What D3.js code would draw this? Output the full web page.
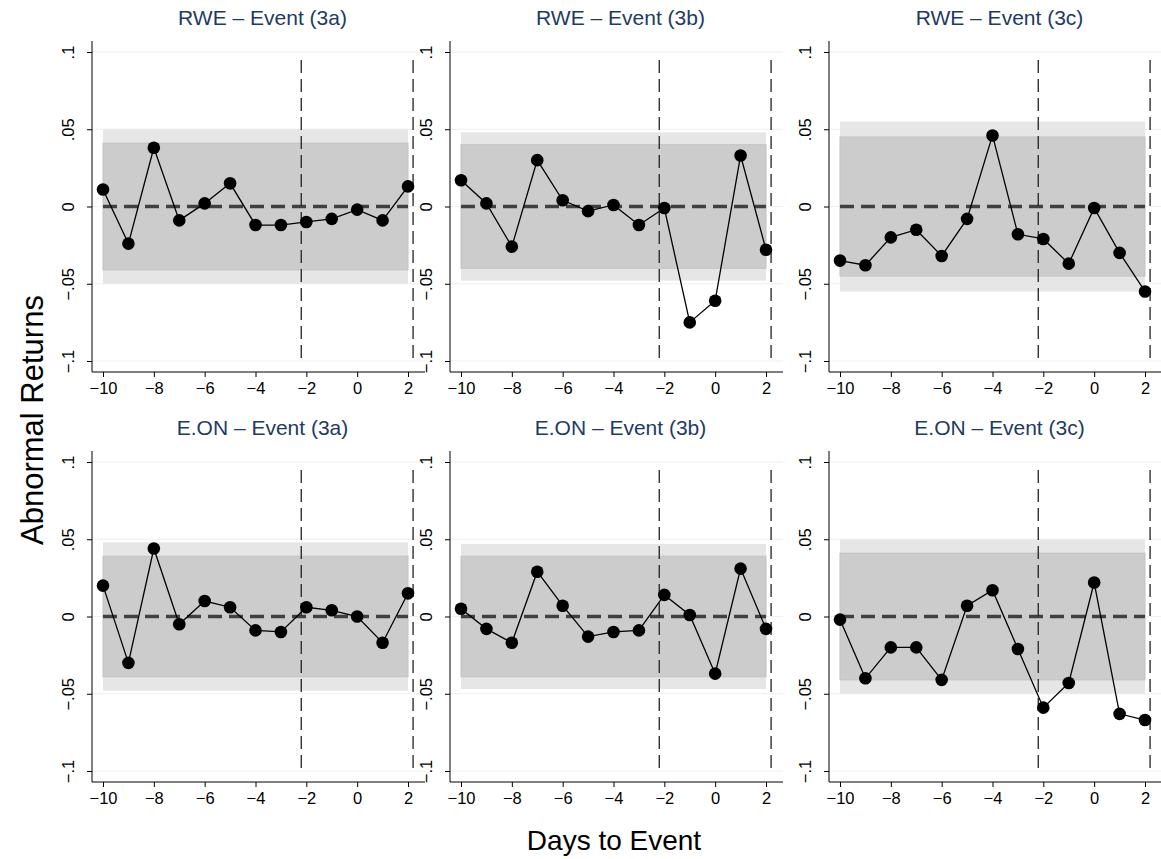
<!DOCTYPE html>
<html><head><meta charset="utf-8">
<script src="https://cdn.jsdelivr.net/npm/d3@7"></script>
<style>body{margin:0;background:#fff}svg{font-family:"Liberation Sans",Arial,sans-serif}</style>
</head><body><div id="chart"></div>
<script>
const days = [-10,-9,-8,-7,-6,-5,-4,-3,-2,-1,0,1,2];
const xTicks = [-10,-8,-6,-4,-2,0,2];
const yTicks = [-0.1,-0.05,0,0.05,0.1];
const yTickLabels = ["−.1","−.05","0",".05",".1"];
const titles = ["RWE – Event (3a)","RWE – Event (3b)","RWE – Event (3c)","E.ON – Event (3a)","E.ON – Event (3b)","E.ON – Event (3c)"];
const rwe3a = [.011,-.024,.038,-.009,.002,.015,-.012,-.012,-.010,-.008,-.002,-.009,.013];
const rwe3b = [.017,.002,-.026,.030,.004,-.003,.001,-.012,-.001,-.075,-.061,.033,-.028];
const rwe3c = [-.035,-.038,-.020,-.015,-.032,-.008,.046,-.018,-.021,-.037,-.001,-.030,-.055];
const eon3a = [.020,-.030,.044,-.005,.010,.006,-.009,-.010,.006,.004,0,-.017,.015];
const eon3b = [.005,-.008,-.017,.029,.007,-.013,-.010,-.009,.014,.001,-.037,.031,-.008];
const eon3c = [-.002,-.040,-.020,-.020,-.041,.007,.017,-.021,-.059,-.043,.022,-.063,-.067];
const series = [rwe3a,rwe3b,rwe3c,eon3a,eon3b,eon3c];
const outerBand = [.050,.048,.055,.048,.047,.050];
const innerBand = [.041,.040,.045,.039,.039,.041];
const eventLines = [-2.2,2.2];

const svg = d3.select("#chart").append("svg").attr("width",1161).attr("height",859);
const colX = [103,461,840], rowY = [52,462];
const pw = 305, ph = 309;

series.forEach((vals,i)=>{
  const c = i%3, r = Math.floor(i/3);
  const x = d3.scaleLinear().domain([-10,2]).range([colX[c], colX[c]+pw]);
  const y = d3.scaleLinear().domain([-0.1,0.1]).range([rowY[r]+ph, rowY[r]]);
  const g = svg.append("g");
  const axX = colX[c]-11, right = colX[c]+pw+17, bottom = rowY[r]+ph+11;
  // gridlines
  g.selectAll(".grid").data(yTicks).join("line")
    .attr("x1",axX).attr("x2",right).attr("y1",d=>y(d)).attr("y2",d=>y(d))
    .attr("stroke","#eaf2f3").attr("stroke-width",1.2);
  // bands
  g.append("rect").attr("x",x(-10)).attr("width",x(2)-x(-10))
    .attr("y",y(outerBand[i])).attr("height",y(-outerBand[i])-y(outerBand[i])).attr("fill","#e6e6e6");
  g.append("rect").attr("x",x(-10)).attr("width",x(2)-x(-10))
    .attr("y",y(innerBand[i])).attr("height",y(-innerBand[i])-y(innerBand[i]))
    .attr("fill","#cccccc").attr("stroke","#c2c2c2");
  // zero dashed
  g.append("line").attr("x1",x(-10)).attr("x2",x(2)).attr("y1",y(0)).attr("y2",y(0))
    .attr("stroke","#404040").attr("stroke-width",3.5).attr("stroke-dasharray","14,7");
  // event lines
  g.selectAll(".ev").data(eventLines).join("line")
    .attr("x1",d=>x(d)).attr("x2",d=>x(d)).attr("y1",rowY[r]+8).attr("y2",rowY[r]+ph+1)
    .attr("stroke","#222").attr("stroke-width",1.3).attr("stroke-dasharray","13,6");
  // series
  const pts = days.map((d,k)=>[d,vals[k]]);
  g.append("path").datum(pts).attr("fill","none").attr("stroke","#000").attr("stroke-width",1.3)
    .attr("d",d3.line().x(d=>x(d[0])).y(d=>y(d[1])));
  g.selectAll(".pt").data(pts).join("circle").attr("cx",d=>x(d[0])).attr("cy",d=>y(d[1]))
    .attr("r",6.3).attr("fill","#000");
  // axes
  const xa = d3.axisBottom(x).tickValues(xTicks).tickFormat(d=>d<0?"−"+(-d):d).tickSizeOuter(0).tickSize(5);
  const xg = g.append("g").attr("transform",`translate(0,${bottom})`).call(xa);
  xg.select(".domain").attr("d",`M${axX},0H${right}`);
  xg.selectAll("text").attr("font-size",16.5).attr("fill","#000").attr("dy","0.85em");
  const ya = d3.axisLeft(y).tickValues(yTicks).tickFormat((d,k)=>yTickLabels[k]).tickSize(5).tickSizeOuter(0);
  const yg = g.append("g").attr("transform",`translate(${axX},0)`).call(ya);
  yg.select(".domain").attr("d",`M0,${rowY[r]-11}V${bottom}`);
  yg.selectAll(".tick text").attr("font-size",16.5).attr("fill","#000").attr("text-anchor","middle")
    .attr("x",0).attr("y",0).attr("dy",0).attr("transform","translate(-18,0) rotate(-90)");
  g.selectAll(".domain, .tick line").attr("stroke","#000");
  // title
  g.append("text").attr("x",colX[c]+pw/2+7).attr("y",rowY[r]-27).attr("text-anchor","middle")
    .attr("font-size",21).attr("fill","#1e3a64").text(titles[i]);
});
svg.append("text").attr("transform","translate(43,420) rotate(-90)").attr("text-anchor","middle")
  .attr("font-size",31).text("Abnormal Returns");
svg.append("text").attr("x",614).attr("y",850).attr("text-anchor","middle")
  .attr("font-size",28).text("Days to Event");
</script></body></html>
